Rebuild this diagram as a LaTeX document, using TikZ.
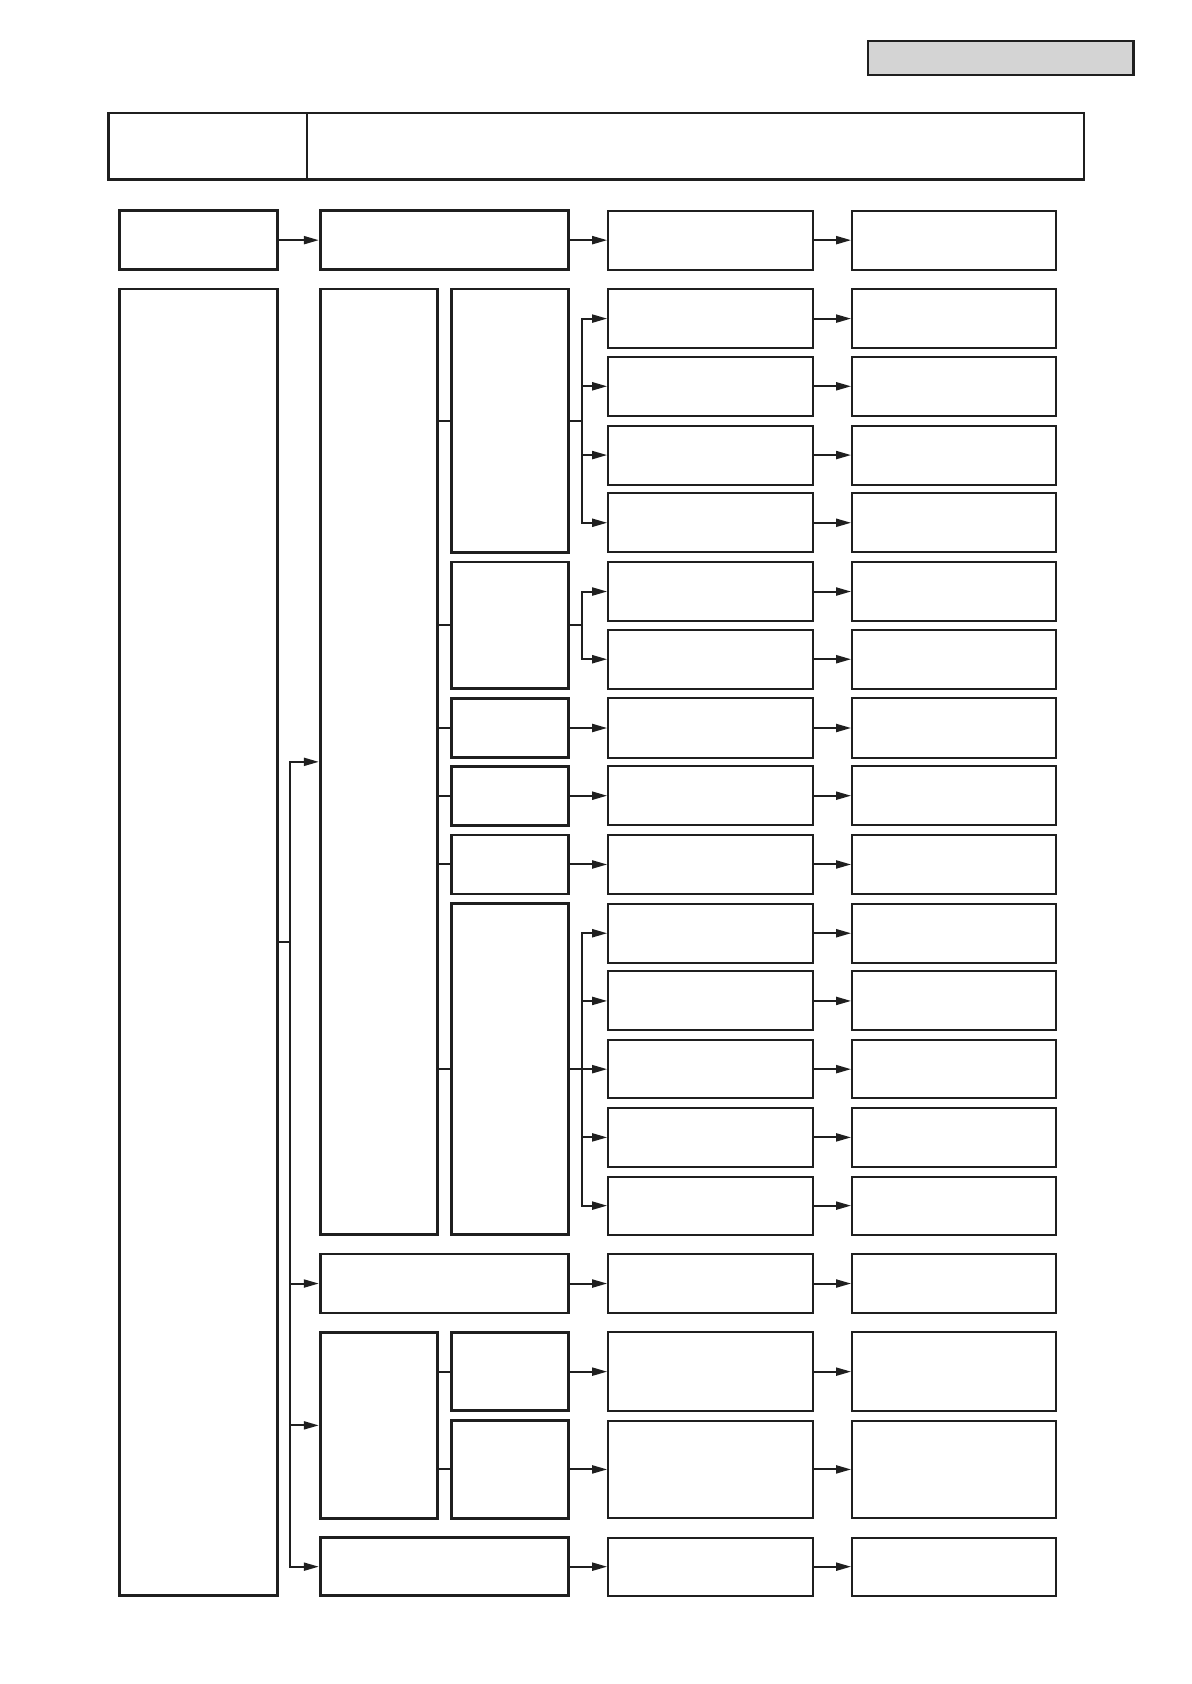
\documentclass[tikz,border=0pt]{standalone}
\usetikzlibrary{arrows.meta, fit, positioning}

\tikzset{
	box/.style={draw=black!88, line width=1.4pt, inner sep=0pt},
	cell/.style={draw=black!88, line width=1pt, inner sep=0pt},
	link/.style={draw=black!88, line width=1pt},
	>={Triangle[length=7.5pt, width=4pt]}
}

\begin{document}
\begin{tikzpicture}[x=0.5373pt, y=-0.5373pt]
	\useasboundingbox (0,0) rectangle (1108.4,1567.2);

	% tag and heading
	\node[box, line width=1.2pt, fill=black!17, fit={(808,38) (1055,70)}] (tag) {};
	\node[box, line width=1.1pt, fit={(101,105) (286,167)}] (headl) {};
	\node[box, line width=1.1pt, fit={(286,105) (1009,167)}] (headr) {};

	% two right columns
	\foreach \i/\ya/\yb in {0/196/251, 1/269/324, 2/332/387, 3/396/451, 4/459/514,
		5/523/578, 6/586/641, 7/650/705, 8/713/768, 9/777/832, 10/841/896,
		11/904/959, 12/968/1022, 13/1031/1086, 14/1095/1149, 15/1167/1222,
		16/1240/1313, 17/1322/1413, 18/1431/1485}
	{
		\node[cell, fit={(566,\ya) (757,\yb)}] (c\i) {};
		\node[cell, fit={(793,\ya) (983,\yb)}] (d\i) {};
		\path[->] (c\i) edge[link] (d\i);
	}

	% left columns
	\node[box, fit={(111,196) (258,251)}]   (a0) {};
	\node[box, fit={(298,196) (529,251)}]   (b0) {};
	\node[box, fit={(111,269) (258,1485)}]  (a1) {};
	\node[box, fit={(298,269) (407,1149)}]  (p1) {};
	\node[box, fit={(420,269) (529,514)}]   (q1) {};
	\node[box, fit={(420,523) (529,641)}]   (q2) {};
	\node[box, fit={(420,650) (529,705)}]   (q3) {};
	\node[box, fit={(420,713) (529,768)}]   (q4) {};
	\node[box, fit={(420,777) (529,832)}]   (q5) {};
	\node[box, fit={(420,841) (529,1149)}]  (q6) {};
	\node[box, fit={(298,1167) (529,1222)}] (b15) {};
	\node[box, fit={(298,1240) (407,1413)}] (p2) {};
	\node[box, fit={(420,1240) (529,1313)}] (q7) {};
	\node[box, fit={(420,1322) (529,1413)}] (q8) {};
	\node[box, fit={(298,1431) (529,1485)}] (b18) {};

	% top row
	\path[->] (a0) edge[link] (b0);
	\path[->] (b0) edge[link] (c0);

	% main bus
	\coordinate (abus) at (270,877);
	\draw[link] (a1.east) -- (abus);
	\foreach \t in {p1, b15, p2, b18}
		\draw[link, ->] (abus) |- (\t);

	% stubs into the second column
	\foreach \t in {q1, q2, q3, q4, q5, q6}
		\draw[link] (p1.east |- \t.west) -- (\t.west);
	\foreach \t in {q7, q8}
		\draw[link] (p2.east |- \t.west) -- (\t.west);

	% fans
	\draw[link] (q1.east) -- ++(11,0) coordinate (f1);
	\foreach \k in {1,...,4}
		\draw[link, ->] (f1) |- (c\k);
	\draw[link] (q2.east) -- ++(11,0) coordinate (f2);
	\foreach \k in {5,6}
		\draw[link, ->] (f2) |- (c\k);
	\draw[link] (q6.east) -- ++(11,0) coordinate (f6);
	\foreach \k in {10,...,14}
		\draw[link, ->] (f6) |- (c\k);

	% single links
	\path[->] (q3)  edge[link] (c7);
	\path[->] (q4)  edge[link] (c8);
	\path[->] (q5)  edge[link] (c9);
	\path[->] (b15) edge[link] (c15);
	\path[->] (q7)  edge[link] (c16);
	\path[->] (q8)  edge[link] (c17);
	\path[->] (b18) edge[link] (c18);
\end{tikzpicture}
\end{document}
